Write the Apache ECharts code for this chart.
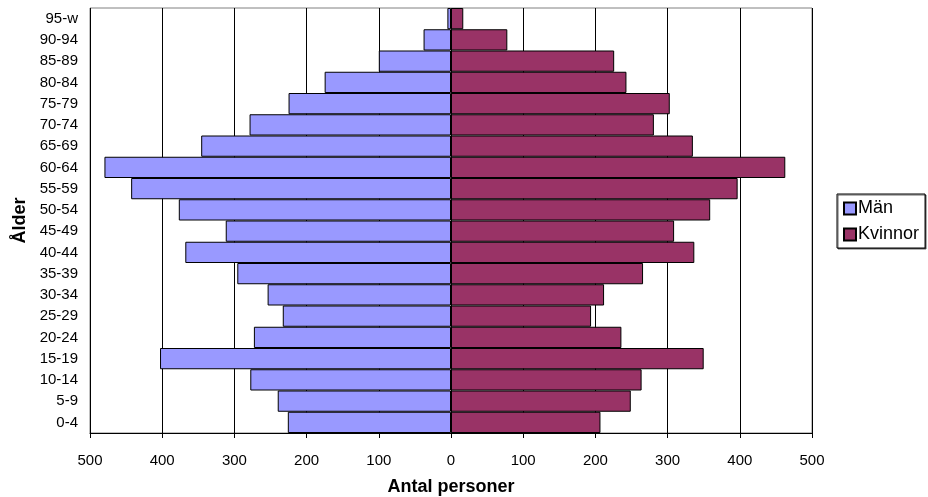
<!DOCTYPE html>
<html>
<head>
<meta charset="utf-8">
<script src="https://cdn.jsdelivr.net/npm/echarts@6/dist/echarts.min.js"></script>
<style>html,body{margin:0;padding:0;background:#fff}#c{width:928px;height:497px}</style>
</head>
<body>
<div id="c"></div>
<script>
const categories = ['0-4','5-9','10-14','15-19','20-24','25-29','30-34','35-39','40-44','45-49','50-54','55-59','60-64','65-69','70-74','75-79','80-84','85-89','90-94','95-w'];
const man = [226, 240, 278, 403, 273, 233, 254, 296, 368, 312, 377, 443, 480, 346, 279, 225, 175, 100, 38, 5];
const kvinnor = [207, 249, 264, 350, 236, 194, 212, 266, 337, 309, 359, 397, 463, 335, 281, 303, 243, 226, 78, 17];
const xTicks = {min: -500, max: 500, interval: 100};

const chart = echarts.init(document.getElementById('c'));
const font = 'Liberation Sans, Arial, sans-serif';
chart.setOption({
  animation: false,
  textStyle: {fontFamily: font},
  grid: {left: 90, right: 116, top: 8, bottom: 64, show: true, borderColor: '#808080', borderWidth: 1,
         containLabel: false, outerBoundsMode: 'none'},
  legend: {
    orient: 'vertical', left: 837, top: 194,
    data: ['Män', 'Kvinnor'],
    icon: 'rect',
    borderColor: '#000', borderWidth: 1, backgroundColor: '#fff',
    padding: [5, 6, 4, 6], itemWidth: 12, itemHeight: 12, itemGap: 7,
    shadowColor: 'rgba(0,0,0,0.6)', shadowOffsetX: 1, shadowOffsetY: 1, shadowBlur: 0,
    textStyle: {fontSize: 18, lineHeight: 19, color: '#000', fontFamily: font, padding: [0, 0, 0, -3]}
  },
  xAxis: {
    type: 'value', min: xTicks.min, max: xTicks.max, interval: xTicks.interval,
    name: 'Antal personer', nameLocation: 'middle', nameGap: 45,
    nameTextStyle: {fontSize: 18, fontWeight: 'bold', color: '#000', fontFamily: font},
    axisLine: {show: true, lineStyle: {color: '#000', width: 1}},
    axisTick: {show: true, length: 5, lineStyle: {color: '#000'}},
    axisLabel: {formatter: v => Math.abs(v), fontSize: 15, color: '#000', margin: 20, fontFamily: font},
    splitLine: {show: true, lineStyle: {color: '#000', width: 1}}
  },
  yAxis: {
    type: 'category', data: categories,
    name: 'Ålder', nameLocation: 'middle', nameGap: 58, nameRotate: 90,
    nameTextStyle: {fontSize: 18, fontWeight: 'bold', color: '#000', fontFamily: font},
    axisLine: {show: false}, axisTick: {show: false},
    axisLabel: {fontSize: 15, color: '#000', margin: 12, fontFamily: font, interval: 0},
    splitLine: {show: false}
  },
  series: [
    {name: 'Män', type: 'bar', data: man.map(v => -v), barGap: '-100%', barCategoryGap: 0,
     itemStyle: {color: '#9999FF', borderColor: '#000', borderWidth: 1}},
    {name: 'Kvinnor', type: 'bar', data: kvinnor, barGap: '-100%', barCategoryGap: 0,
     itemStyle: {color: '#993366', borderColor: '#000', borderWidth: 1}}
  ]
});
</script>
</body>
</html>
